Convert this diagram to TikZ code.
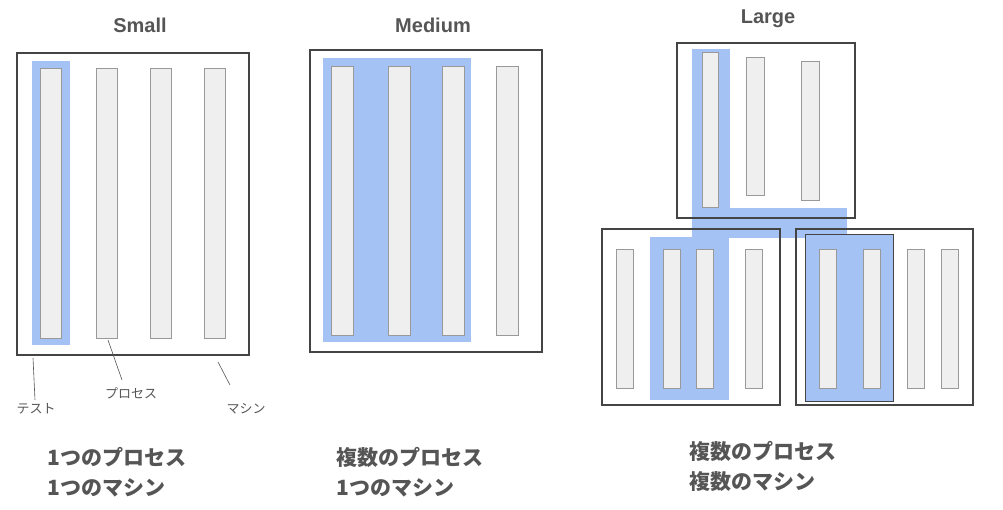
\documentclass[tikz,border=0pt]{standalone}
\usepackage{fontspec}
\setmainfont{Noto Sans CJK JP}
\newfontfamily\titlefont{Liberation Sans}
\definecolor{bl}{HTML}{A4C2F4}
\definecolor{pf}{HTML}{EFEFEF}
\definecolor{pd}{HTML}{999999}
\definecolor{md}{HTML}{444444}
\definecolor{tx}{HTML}{555555}
\begin{document}
\begin{tikzpicture}[x=1pt,y=-1pt,
  proc/.style={fill=pf,draw=pd,line width=0.8pt},
  mach/.style={draw=md,line width=1.6pt},
  ttl/.style={font=\titlefont\bfseries\fontsize{20}{24}\selectfont,text=tx},
  big/.style={font=\bfseries\fontsize{21}{30}\selectfont,text=tx,align=left,anchor=west},
  ann/.style={font=\fontsize{13}{15}\selectfont,text=tx},
  lead/.style={draw=tx,line width=0.6pt}]
\useasboundingbox (0,0) rectangle (1003,509);
% Small
\node[ttl] (t1) at (140,25) {Small};
\draw[mach] (17,53) rectangle (249,355);
\fill[bl] (32,61) rectangle (70,345);
\foreach \x/\n in {40/a,96/b,150/c,204/d}{\draw[proc] (\x,68) rectangle ++(21,270);}
\coordinate (pa) at (33,358); \coordinate (pb) at (108,340); \coordinate (pc) at (218,362);
\node[ann] (l1) at (36,409) {テスト};
\node[ann] (l2) at (131,393) {プロセス};
\node[ann] (l3) at (246,409) {マシン};
\draw[lead] (pa) -- (l1.north -| 35,0);
\draw[lead] (pb) -- (122,380);
\draw[lead] (pc) -- (230,385);
\node[big] (b1) at (44,472) {1つのプロセス\\1つのマシン};
% Medium
\node[ttl] (t2) at (433,25) {Medium};
\draw[mach] (310,50) rectangle (542,352);
\fill[bl] (323,58) rectangle (471,342);
\foreach \x in {331,388,442,496}{\draw[proc] (\x,66) rectangle ++(22,269);}
\node[big] (b2) at (333,472) {複数のプロセス\\1つのマシン};
% Large
\node[ttl] (t3) at (768,19) {Large};
\fill[bl] (692,49) rectangle (730,238);
\fill[bl] (692,208) rectangle (847,238);
\fill[bl] (650,237) rectangle (729,400);
\fill[bl] (692,229) rectangle (729,240);
\fill[bl,draw=md,line width=0.6pt] (805,234) rectangle (893,401);
\draw[mach] (677,43) rectangle (855,218);
\draw[proc] (702,52) rectangle (718,207);
\draw[proc] (746,57) rectangle (764,195);
\draw[proc] (801,61) rectangle (819,200);
\draw[mach] (602,229) rectangle (780,405);
\draw[mach] (796,229) rectangle (973,405);
\foreach \x in {616,663,696,745,819,863,907,941}{\draw[proc] (\x,249) rectangle ++(17,139);}
\node[big] (b3) at (686,466) {複数のプロセス\\複数のマシン};
\end{tikzpicture}
\end{document}
